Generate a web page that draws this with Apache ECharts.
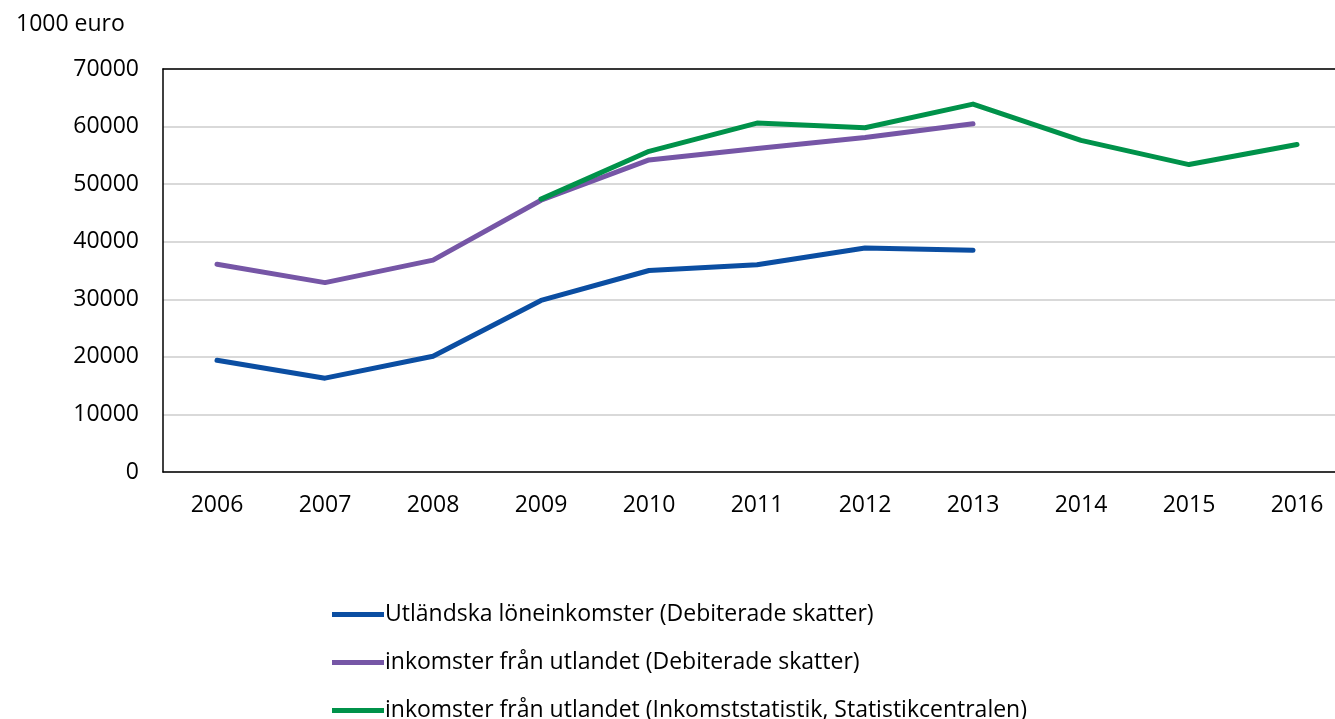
<!DOCTYPE html>
<html>
<head>
<meta charset="utf-8">
<script src="https://cdn.jsdelivr.net/npm/echarts@6/dist/echarts.min.js"></script>
<style>
  html, body { margin: 0; padding: 0; overflow: hidden; background: #fff; }
  #chart { width: 1351px; height: 719px; }
</style>
</head>
<body>
<div id="chart"></div>
<script>
// data
const years = ['2006', '2007', '2008', '2009', '2010', '2011', '2012', '2013', '2014', '2015', '2016']
const lonInkDebit = [19400, 16300, 20100, 29800, 35000, 36000, 38900, 38500, null, null, null]
const inkUtlDebit = [36100, 32900, 36800, 47200, 54200, 56200, 58100, 60500, null, null, null]
const inkUtlStat = [null, null, null, 47400, 55700, 60600, 59800, 63900, 57600, 53400, 56900]
const seriesNames = [
  'Utländska löneinkomster (Debiterade skatter)',
  'inkomster från utlandet (Debiterade skatter)',
  'inkomster från utlandet (Inkomststatistik, Statistikcentralen)'
]
const colors = ['#0B4EA2', '#7656A6', '#00924A']

const chart = echarts.init(document.getElementById('chart'))

const mkLine = (name, data, color) => ({
  name: name,
  type: 'line',
  data: data,
  showSymbol: false,
  symbol: 'none',
  connectNulls: false,
  z: 5,
  lineStyle: { color: color, width: 5, cap: 'round', join: 'round' },
  itemStyle: { color: color }
})

const option = {
  animation: false,
  textStyle: { fontFamily: '"Open Sans", "Noto Sans", sans-serif', color: '#000' },
  grid: {
    left: 163, right: 0, top: 69, bottom: 247
  },
  title: {
    text: '1000 euro',
    left: 11, top: 8,
    textStyle: { fontSize: 23, fontWeight: 'normal', color: '#000', fontFamily: '"Open Sans", sans-serif' }
  },
  legend: {
    orient: 'vertical',
    left: 327, top: 598, height: 200,
    itemWidth: 52, itemHeight: 5,
    itemGap: 25,
    icon: 'rect',
    textStyle: { fontSize: 23, color: '#000', padding: [0, 0, 0, -4] },
    data: seriesNames
  },
  xAxis: [{
    type: 'category',
    data: years,
    boundaryGap: true,
    axisLine: { lineStyle: { color: '#000', width: 1.5 } },
    axisTick: { show: false },
    axisLabel: { fontSize: 23, color: '#000', margin: 22 }
  }, {
    // top border of the plot area
    type: 'category',
    position: 'top',
    data: years,
    axisLine: { show: true, lineStyle: { color: '#000', width: 1.5 } },
    axisTick: { show: false },
    axisLabel: { show: false }
  }],
  yAxis: {
    type: 'value',
    min: 0, max: 70000, interval: 10000,
    axisLine: { show: true, lineStyle: { color: '#000', width: 1.5 } },
    axisTick: { show: false },
    axisLabel: { fontSize: 23, color: '#000', margin: 24, formatter: v => String(v) },
    splitLine: { lineStyle: { color: '#d9d9d9', width: 2 } }
  },
  series: [
    mkLine(seriesNames[0], lonInkDebit, colors[0]),
    mkLine(seriesNames[1], inkUtlDebit, colors[1]),
    mkLine(seriesNames[2], inkUtlStat, colors[2])
  ]
}

chart.setOption(option)
</script>
</body>
</html>
